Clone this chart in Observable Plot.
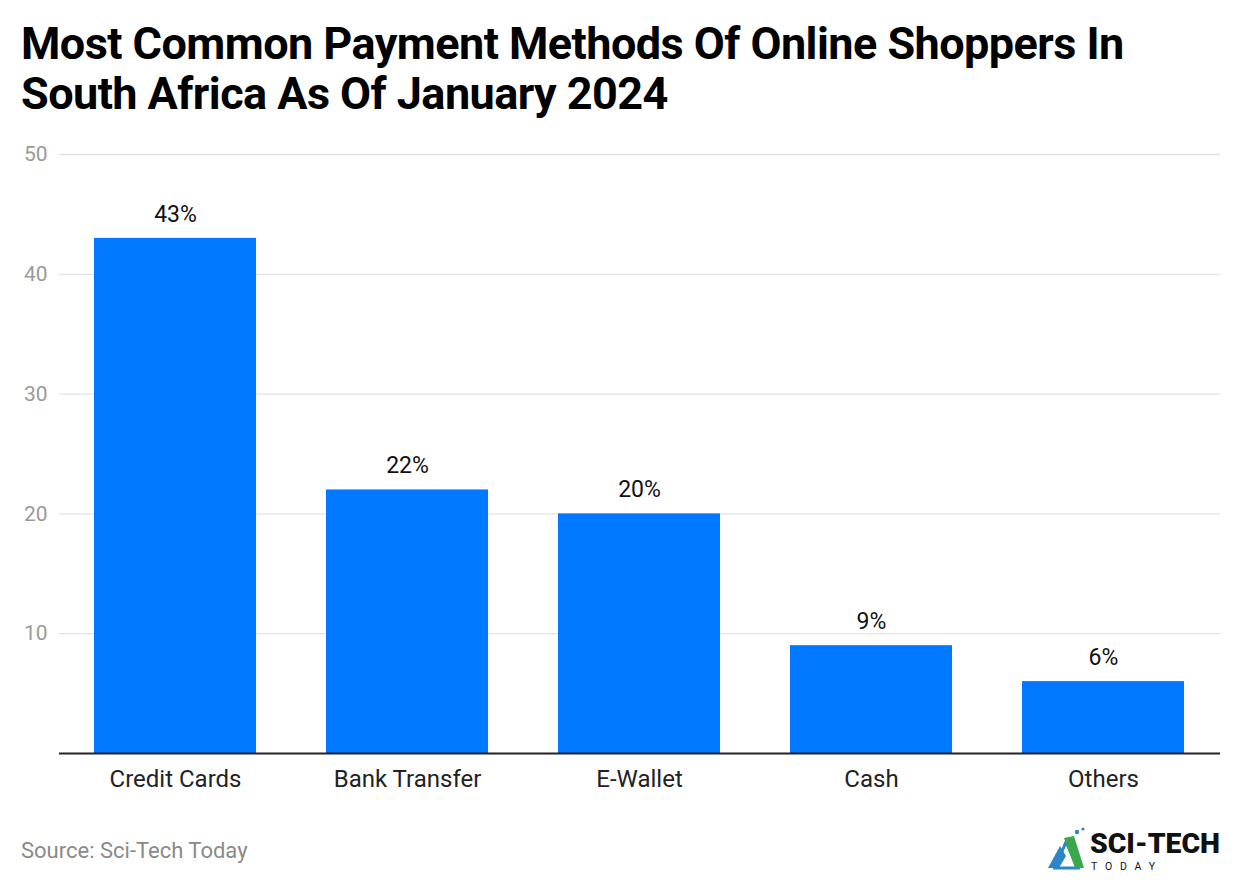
<!DOCTYPE html>
<html>
<head>
<meta charset="utf-8">
<script src="https://cdn.jsdelivr.net/npm/d3@7"></script>
<script src="https://cdn.jsdelivr.net/npm/@observablehq/plot@0.6"></script>
<style>
  html, body { margin: 0; padding: 0; background: #fff; }
  body { width: 1240px; height: 884px; position: relative; overflow: hidden; font-family: Roboto, "Noto Sans", sans-serif; }
  #title { position: absolute; left: 21px; top: 19px; font-size: 45px; font-weight: 700; line-height: 50px; color: #000; letter-spacing: -0.55px; white-space: nowrap; }
  #chart { position: absolute; left: 0; top: 130px; }
  #source { position: absolute; left: 21px; top: 838px; font-size: 22px; color: #8a8a8a; }
  #logo { position: absolute; left: 1046px; top: 824px; width: 180px; height: 52px; }
</style>
</head>
<body>
<div id="title">Most Common Payment Methods Of Online Shoppers In<br>South Africa As Of January 2024</div>
<div id="chart"></div>
<div id="source">Source: Sci-Tech Today</div>
<svg id="logo" viewBox="0 0 180 52">
  <polygon points="2,44 14,22 20,32 13,44" fill="#2a86c8"/>
  <polygon points="9,44 20,18 32,44" fill="none" stroke="#2a86c8" stroke-width="3"/>
  <polygon points="18,14 28,12 38,44 29,44" fill="#3aa84a"/>
  <circle cx="31" cy="8" r="2.2" fill="#2a86c8"/>
  <circle cx="37" cy="5" r="1.6" fill="#2a86c8"/>
  <text x="44" y="29" font-family="Roboto, sans-serif" font-weight="900" font-size="27" fill="#111" textLength="130" lengthAdjust="spacingAndGlyphs">SCI-TECH</text>
  <text x="45" y="46" font-family="Roboto, sans-serif" font-size="10.5" fill="#111" textLength="64">TODAY</text>
</svg>
<script>
const methods = ["Credit Cards", "Bank Transfer", "E-Wallet", "Cash", "Others"];
const shares = [43, 22, 20, 9, 6];
const yTicks = [10, 20, 30, 40, 50];

const data = methods.map((m, i) => ({method: m, value: shares[i]}));

const chart = Plot.plot({
  width: 1240,
  height: 670,
  marginLeft: 59,
  marginRight: 20,
  marginTop: 24,
  marginBottom: 47,
  style: {fontFamily: "Roboto, sans-serif", background: "#fff"},
  x: {domain: methods, paddingInner: 0.3, paddingOuter: 0.15, label: null},
  y: {domain: [0, 50], label: null},
  marks: [
    Plot.gridY(yTicks, {stroke: "#e3e3e3", strokeOpacity: 1, strokeWidth: 1.3}),
    Plot.axisY(yTicks, {tickSize: 0, tickPadding: 12, fontSize: 21, fill: "#9a9a9a", label: null}),
    Plot.axisX({tickSize: 0, tickPadding: 16, fontSize: 24, fill: "#222", label: null}),
    Plot.barY(data, {x: "method", y: "value", fill: "#0078ff"}),
    Plot.ruleY([0], {stroke: "#222", strokeWidth: 2}),
    Plot.text(data, {x: "method", y: "value", text: d => d.value + "%", dy: -24, fontSize: 23, fill: "#111"})
  ]
});
document.getElementById("chart").appendChild(chart);
</script>
</body>
</html>
